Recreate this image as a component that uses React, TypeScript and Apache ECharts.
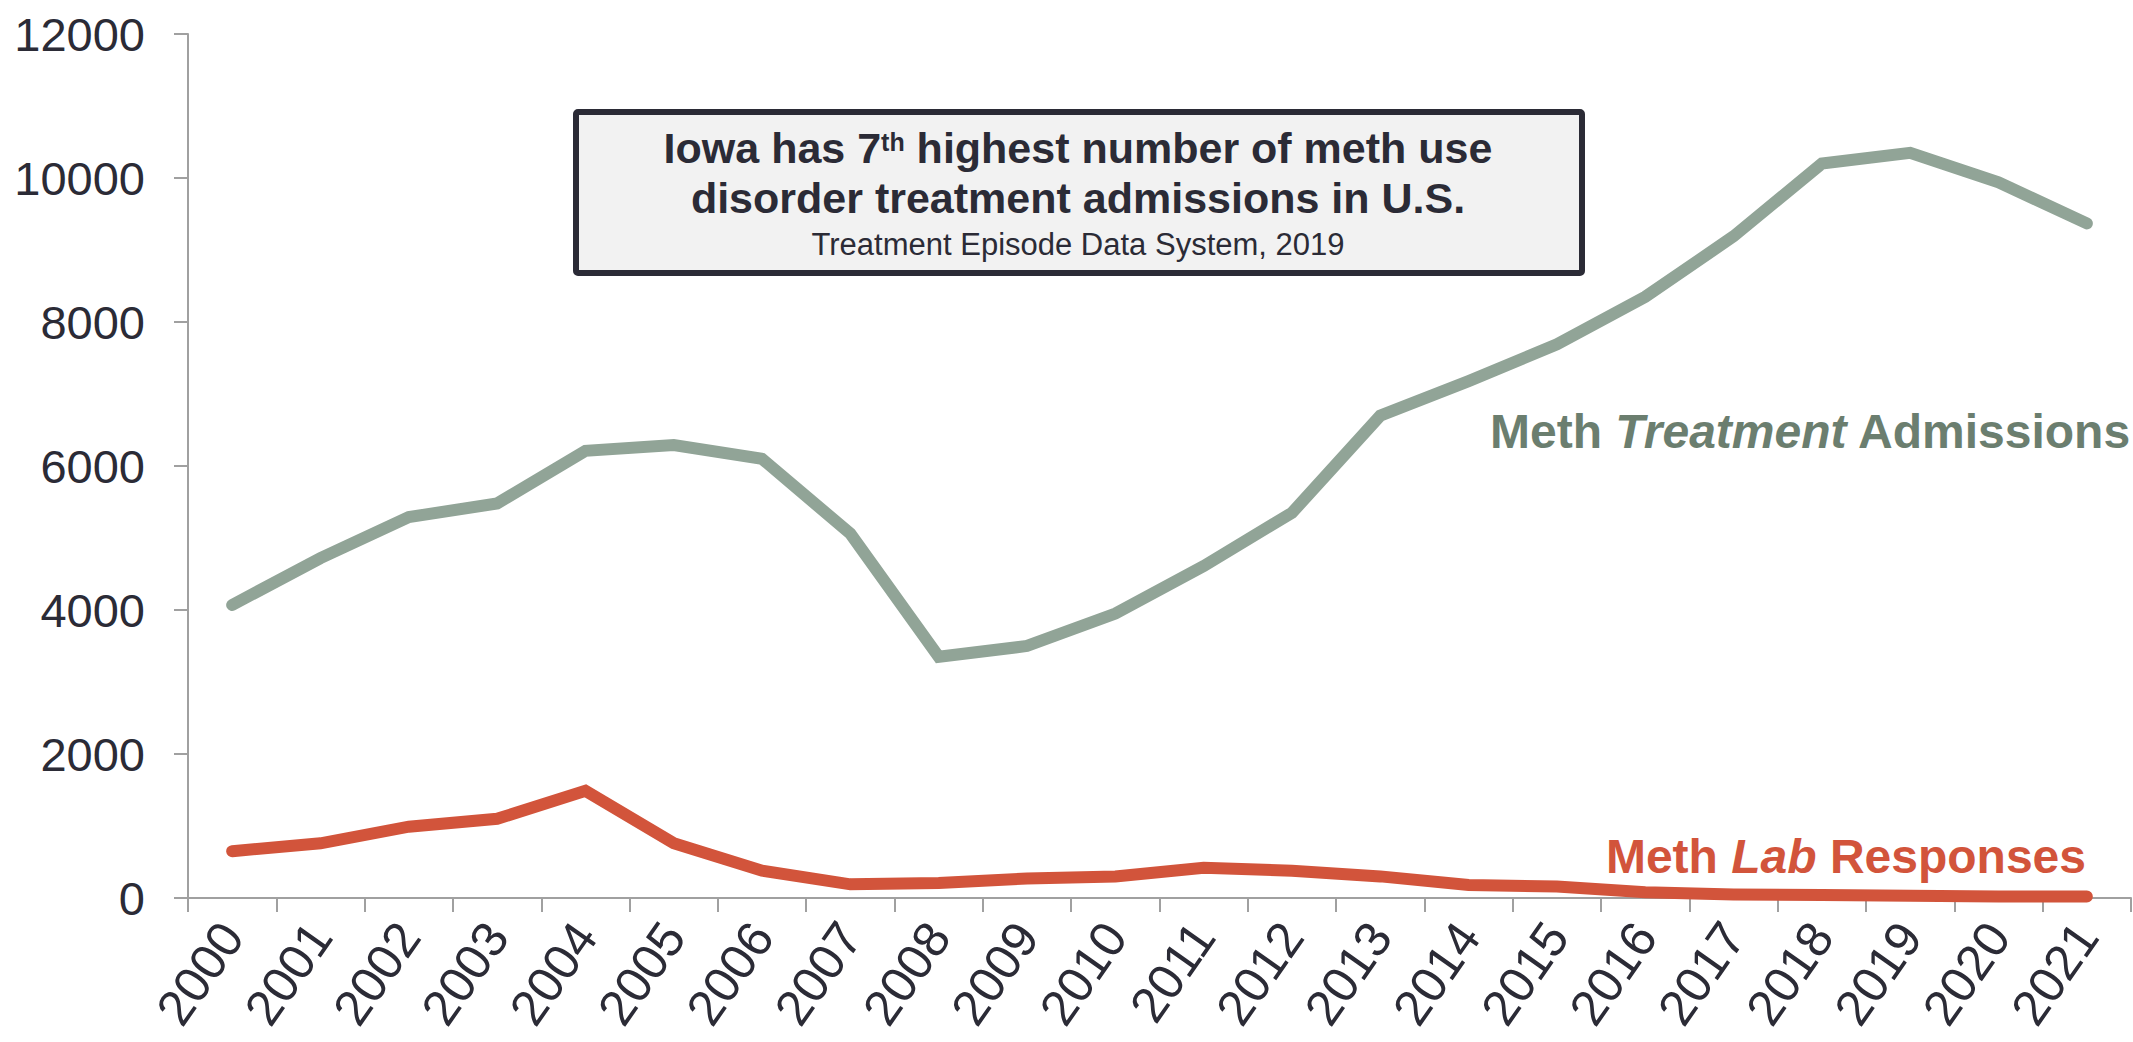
import React, { useEffect, useRef } from "react";
import * as echarts from "echarts";

const years = ["2000","2001","2002","2003","2004","2005","2006","2007","2008","2009","2010","2011","2012","2013","2014","2015","2016","2017","2018","2019","2020","2021"];
const treatmentAdmissions = [4070,4720,5290,5480,6210,6290,6100,5060,3350,3500,3950,4610,5350,6700,7180,7690,8350,9190,10200,10350,9940,9370];
const labResponses = [650,760,990,1100,1490,760,380,190,210,270,300,420,380,300,180,160,80,50,40,30,20,20];
const yTicks = { min: 0, max: 12000, interval: 2000 };

const FONT = "'Liberation Sans', Arial, Helvetica, sans-serif";
const DARK = "#2b2b36";
const AXIS = "#a0a0a0";
const GREEN = "#91a497";
const GREEN_TXT = "#6b7e6f";
const RED = "#d2543b";

export default function App() {
  const ref = useRef<HTMLDivElement>(null);
  useEffect(() => {
    if (!ref.current) return;
    const chart = echarts.init(ref.current, null, { renderer: "svg" });
    chart.setOption({
      animation: false,
      backgroundColor: "#ffffff",
      grid: { left: 188, right: 2, top: 34, bottom: 144, containLabel: false },
      xAxis: {
        type: "category",
        data: years,
        boundaryGap: true,
        axisLine: { lineStyle: { color: AXIS, width: 2 } },
        axisTick: { show: true, interval: 0, length: 14, lineStyle: { color: AXIS, width: 2 } },
        axisLabel: { interval: 0, rotate: 55, margin: 30, fontSize: 50, color: DARK, fontFamily: FONT },
        splitLine: { show: false },
      },
      yAxis: {
        type: "value",
        min: yTicks.min,
        max: yTicks.max,
        interval: yTicks.interval,
        axisLine: { show: true, lineStyle: { color: AXIS, width: 2 } },
        axisTick: { show: true, length: 14, lineStyle: { color: AXIS, width: 2 } },
        axisLabel: {
          margin: 43,
          fontSize: 47,
          color: DARK,
          fontFamily: FONT,
          formatter: (v: number) => String(v),
        },
        splitLine: { show: false },
      },
      series: [
        {
          name: "Meth Treatment Admissions",
          type: "line",
          data: treatmentAdmissions,
          symbol: "none",
          lineStyle: { color: GREEN, width: 12, cap: "round", join: "miter" },
          z: 3,
        },
        {
          name: "Meth Lab Responses",
          type: "line",
          data: labResponses,
          symbol: "none",
          lineStyle: { color: RED, width: 12, cap: "round", join: "miter" },
          z: 4,
        },
      ],
      graphic: [
        {
          type: "rect",
          shape: { x: 576, y: 112, width: 1006, height: 161, r: 2 },
          style: { fill: "#f2f2f2", stroke: DARK, lineWidth: 6 },
          z: 10,
        },
        {
          type: "text",
          x: 1078,
          y: 148,
          z: 11,
          style: {
            text: "{a|Iowa has 7}{s|th}{a| highest number of meth use}",
            textAlign: "center",
            textVerticalAlign: "middle",
            rich: {
              a: { fontSize: 43, fontWeight: "bold", fill: DARK, fontFamily: FONT, lineHeight: 50 },
              s: { fontSize: 25, fontWeight: "bold", fill: DARK, fontFamily: FONT, lineHeight: 25, verticalAlign: "top", padding: [6, 0, 0, 0] },
            },
          },
        },
        {
          type: "text",
          x: 1078,
          y: 198,
          z: 11,
          style: {
            text: "disorder treatment admissions in U.S.",
            textAlign: "center",
            textVerticalAlign: "middle",
            fontSize: 43,
            fontWeight: "bold",
            fill: DARK,
            fontFamily: FONT,
          },
        },
        {
          type: "text",
          x: 1078,
          y: 244,
          z: 11,
          style: {
            text: "Treatment Episode Data System, 2019",
            textAlign: "center",
            textVerticalAlign: "middle",
            fontSize: 31,
            fill: DARK,
            fontFamily: FONT,
          },
        },
        {
          type: "text",
          x: 1490,
          y: 431,
          z: 11,
          style: {
            text: "{b|Meth }{i|Treatment}{b| Admissions}",
            textAlign: "left",
            textVerticalAlign: "middle",
            rich: {
              b: { fontSize: 48, fontWeight: "bold", fill: GREEN_TXT, fontFamily: FONT },
              i: { fontSize: 48, fontWeight: "bold", fontStyle: "italic", fill: GREEN_TXT, fontFamily: FONT },
            },
          },
        },
        {
          type: "text",
          x: 2086,
          y: 856,
          z: 11,
          style: {
            text: "{b|Meth }{i|Lab}{b| Responses}",
            textAlign: "right",
            textVerticalAlign: "middle",
            rich: {
              b: { fontSize: 48, fontWeight: "bold", fill: RED, fontFamily: FONT },
              i: { fontSize: 48, fontWeight: "bold", fontStyle: "italic", fill: RED, fontFamily: FONT },
            },
          },
        },
      ],
    });
    return () => chart.dispose();
  }, []);
  return (
    <div
      ref={ref}
      style={{ position: "fixed", left: 0, top: 0, width: 2133, height: 1042 }}
    />
  );
}
